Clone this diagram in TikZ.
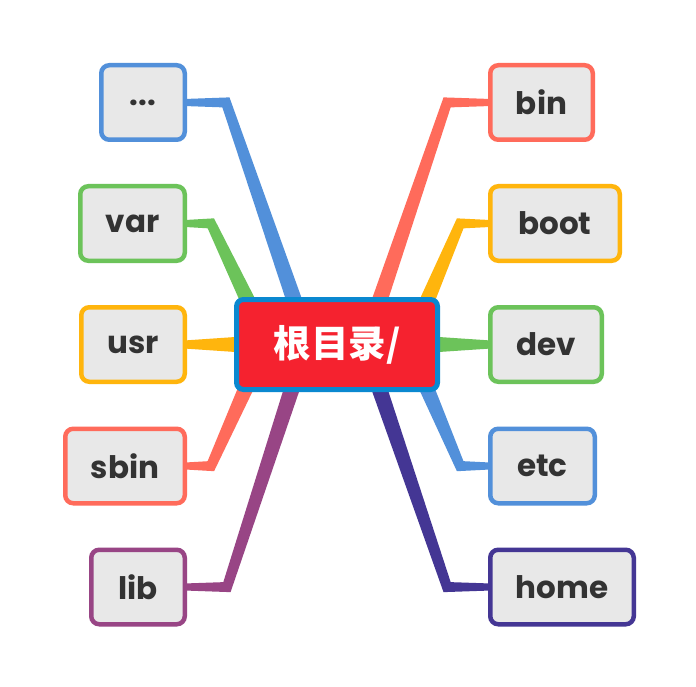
\documentclass[tikz,border=0pt]{standalone}
\usepackage{fontspec}
\usetikzlibrary{calc}
\newfontfamily\boxfont{Poppins}
\newfontfamily\cjk{Noto Sans CJK SC}
\definecolor{cblue}{HTML}{5290DA}
\definecolor{cgreen}{HTML}{6CC35A}
\definecolor{cyellow}{HTML}{FFB50D}
\definecolor{csalmon}{HTML}{FF6B5B}
\definecolor{cpurple}{HTML}{984585}
\definecolor{cdpurple}{HTML}{443694}
\definecolor{cred}{HTML}{F5222F}
\definecolor{cborder}{HTML}{0A88D0}
\definecolor{cfill}{HTML}{E8E8E8}
\definecolor{ctext}{HTML}{333333}
\pgfdeclarelayer{bg}
\pgfsetlayers{bg,main}
% bent branch: colour, start (inside root), knee, end
\newcommand\mmbranch[4]{%
  \coordinate (pL) at ($(#2)!8pt!90:(#3)$);
  \coordinate (pR) at ($(#2)!8pt!-90:(#3)$);
  \coordinate (kaL) at ($(#3)!5pt!-90:(#2)$);
  \coordinate (kaR) at ($(#3)!5pt!90:(#2)$);
  \coordinate (kbL) at ($(#3)!5pt!90:(#4)$);
  \coordinate (kbR) at ($(#3)!5pt!-90:(#4)$);
  \coordinate (eL) at ($(#4)!3.6pt!-90:(#3)$);
  \coordinate (eR) at ($(#4)!3.6pt!90:(#3)$);
  \coordinate (mL) at (intersection of pL--kaL and kbL--eL);
  \coordinate (mR) at (intersection of pR--kaR and kbR--eR);
  \fill[#1] (pL) -- (mL) -- (eL) -- (eR) -- (mR) -- (pR) -- cycle;
}
% straight branch: colour, start, end
\newcommand\mmstraight[3]{%
  \fill[#1] ($(#2)!8.5pt!90:(#3)$) -- ($(#3)!4.2pt!-90:(#2)$)
    -- ($(#3)!4.2pt!90:(#2)$) -- ($(#2)!8.5pt!-90:(#3)$) -- cycle;
}
\tikzset{
  leaf/.style={draw=#1, fill=cfill, line width=4.5pt, rounded corners=8pt,
    minimum height=74.5pt, inner sep=0pt, text=ctext,
    font=\boxfont\bfseries\fontsize{31}{36}\selectfont},
  root/.style={draw=cborder, fill=cred, line width=5pt, rounded corners=7pt,
    minimum width=201pt, minimum height=90pt, inner sep=0pt, text=white,
    font=\cjk\bfseries\fontsize{37.5}{42}\selectfont},
}
\begin{document}
\begin{tikzpicture}[x=1pt,y=-1pt]
\useasboundingbox (0,0) rectangle (696,687);

\node[root] (root) at (337,344.5) {根目录/};

\node[leaf=cblue, minimum width=83.5pt] (dots) at (143,102.5) {...};
\node[leaf=cgreen, minimum width=104.5pt] (var) at (132.5,223.5) {var};
\node[leaf=cyellow, minimum width=103.5pt] (usr) at (133,344.5) {usr};
\node[leaf=csalmon, minimum width=119.5pt] (sbin) at (125,466) {sbin};
\node[leaf=cpurple, minimum width=93.5pt] (lib) at (138,587) {lib};

\node[leaf=csalmon, minimum width=102.5pt] (bin) at (541.5,102.5) {bin};
\node[leaf=cyellow, minimum width=129.5pt] (boot) at (555,223.5) {boot};
\node[leaf=cgreen, minimum width=111.5pt] (dev) at (546,344.5) {dev};
\node[leaf=cblue, minimum width=104.5pt] (etc) at (542.5,466) {etc};
\node[leaf=cdpurple, minimum width=143.5pt] (home) at (562,587) {home};

% knees and starts
\coordinate (sDots) at (301,320);  \coordinate (kDots) at (226,102.5);
\coordinate (sVar) at (257,320);   \coordinate (kVar) at (211,223.5);
\coordinate (sSbin) at (254,370);  \coordinate (kSbin) at (211,466);
\coordinate (sLib) at (298,370);   \coordinate (kLib) at (227,587);
\coordinate (sBin) at (373,320);   \coordinate (kBin) at (447,102.5);
\coordinate (sBoot) at (419,320);  \coordinate (kBoot) at (460,223.5);
\coordinate (sEtc) at (419,370);   \coordinate (kEtc) at (460,466);
\coordinate (sHome) at (373,370);  \coordinate (kHome) at (447,587);
\coordinate (sUsr) at (250,344.5);
\coordinate (sDev) at (424,344.5);

\begin{pgfonlayer}{bg}
\fill[white] (0,0) rectangle (696,687);
\mmbranch{cblue}{sDots}{kDots}{dots.east}
\mmbranch{cgreen}{sVar}{kVar}{var.east}
\mmbranch{csalmon}{sSbin}{kSbin}{sbin.east}
\mmbranch{cpurple}{sLib}{kLib}{lib.east}
\mmbranch{csalmon}{sBin}{kBin}{bin.west}
\mmbranch{cyellow}{sBoot}{kBoot}{boot.west}
\mmbranch{cblue}{sEtc}{kEtc}{etc.west}
\mmbranch{cdpurple}{sHome}{kHome}{home.west}
\mmstraight{cyellow}{sUsr}{usr.east}
\mmstraight{cgreen}{sDev}{dev.west}
\end{pgfonlayer}
\end{tikzpicture}
\end{document}
